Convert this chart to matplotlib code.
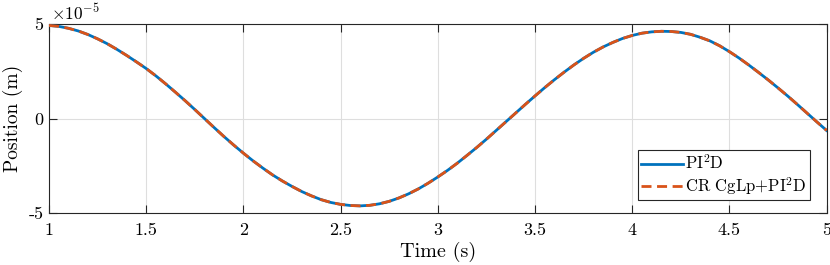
import numpy as np
import matplotlib
matplotlib.use("Agg")
import matplotlib.pyplot as plt

plt.rcParams['font.family'] = 'serif'
plt.rcParams['font.serif'] = ['cmr10']
plt.rcParams['mathtext.fontset'] = 'cm'
plt.rcParams['axes.unicode_minus'] = False

# time samples (s), read every 0.05 s
time = np.arange(81) * 0.05 + 1.0

# position, in units of 1e-5 m
pi2d_pos = [
    4.93, 4.88, 4.78, 4.64, 4.45, 4.22, 3.96, 3.66, 3.34, 3.00,
    2.65, 2.26, 1.84, 1.40, 0.95, 0.48, 0.00, -0.48, -0.95, -1.40,
    -1.83, -2.24, -2.62, -2.98, -3.30, -3.59, -3.86, -4.09, -4.29, -4.44,
    -4.54, -4.60, -4.62, -4.59, -4.51, -4.38, -4.20, -3.98, -3.72, -3.42,
    -3.09, -2.74, -2.36, -1.95, -1.53, -1.09, -0.63, -0.17, 0.29, 0.75,
    1.20, 1.64, 2.06, 2.46, 2.84, 3.19, 3.51, 3.79, 4.03, 4.24,
    4.40, 4.52, 4.59, 4.62, 4.61, 4.56, 4.46, 4.30, 4.11, 3.85,
    3.54, 3.20, 2.83, 2.44, 2.04, 1.62, 1.19, 0.74, 0.28, -0.18,
    -0.63,
]
# CR CgLp + PI2D overlaps PI2D at this scale
cglp_pos = list(pi2d_pos)

x_ticks = [1, 1.5, 2, 2.5, 3, 3.5, 4, 4.5, 5]
x_labels = ['1', '1.5', '2', '2.5', '3', '3.5', '4', '4.5', '5']
y_ticks = [-5e-5, 0, 5e-5]
y_labels = ['-5', '0', '5']

blue = '#0072BD'
orange = '#D95319'
axcol = '#262626'

fig = plt.figure(figsize=(8.3, 2.65), dpi=100)
ax = fig.add_axes([0.059, 0.196, 0.937, 0.713])

ax.plot(time, np.array(pi2d_pos) * 1e-5, color=blue, lw=2.0,
        label=r'PI$^2$D', zorder=3)
ax.plot(time, np.array(cglp_pos) * 1e-5, color=orange, lw=2.0,
        ls=(0, (3.6, 2.0)), label=r'CR CgLp+PI$^2$D', zorder=4)

ax.set_xlim(1, 5)
ax.set_ylim(-5e-5, 5e-5)
ax.set_xticks(x_ticks)
ax.set_xticklabels(x_labels)
ax.set_yticks(y_ticks)
ax.set_yticklabels(y_labels)

ax.grid(True, color='#dedede', lw=0.8)
ax.set_axisbelow(True)
ax.tick_params(direction='in', length=5.5, width=0.8, color=axcol,
               labelsize=13, top=True, right=True)
ax.tick_params(axis='x', pad=7)
ax.tick_params(axis='y', pad=4)
for s in ax.spines.values():
    s.set_color(axcol)
    s.set_linewidth(0.8)

ax.set_xlabel('Time (s)', fontsize=14.5, labelpad=3)
ax.set_ylabel('Position (m)', fontsize=14)
ax.yaxis.set_label_coords(-0.033, 0.5)
ax.text(0.002, 1.008, r'$\times 10^{-5}$', transform=ax.transAxes,
        fontsize=12.5, ha='left', va='bottom')

leg = ax.legend(loc='lower right', fontsize=12, handlelength=2.5,
                handletextpad=0.15, borderpad=0.2, labelspacing=0.15,
                borderaxespad=0, fancybox=False, framealpha=1,
                edgecolor=axcol, bbox_to_anchor=(0.979, 0.069))
leg.get_frame().set_linewidth(0.8)

fig.savefig('out.png', dpi=100)
